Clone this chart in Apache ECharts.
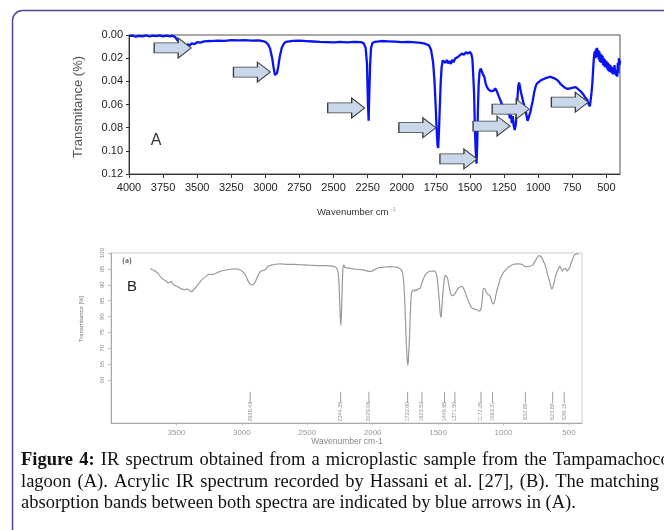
<!DOCTYPE html>
<html>
<head>
<meta charset="utf-8">
<script src="https://cdn.jsdelivr.net/npm/echarts@6/dist/echarts.min.js"></script>
<style>
  html, body { margin: 0; padding: 0; background: #fff; }
  #chart { width: 664px; height: 530px; }
</style>
</head>
<body>
<div id="chart"></div>
<script>
// panel A: sample spectrum (wavenumber, transmitance)
var waveA = [4000,3975,3950,3925,3900,3875,3850,3825,3800,3775,3750,3725,3700,3680,3660,3645,3630,3615,3600,3585,3570,3555,3540,3520,3500,3475,3450,3400,3350,3300,3250,3200,3150,3100,3050,3020,3000,2980,2965,2950,2940,2930,2922,2915,2905,2895,2880,2865,2850,2800,2750,2700,2650,2600,2550,2500,2450,2400,2350,2300,2280,2265,2255,2248,2243,2238,2232,2225,2215,2200,2150,2100,2050,2000,1950,1900,1860,1830,1800,1785,1770,1760,1752,1745,1738,1733,1728,1722,1715,1708,1700,1690,1680,1670,1660,1650,1640,1630,1620,1610,1600,1590,1575,1560,1545,1530,1515,1500,1490,1482,1476,1470,1464,1458,1452,1447,1442,1436,1430,1422,1414,1405,1395,1385,1375,1365,1355,1345,1335,1325,1315,1305,1295,1285,1275,1265,1255,1245,1235,1225,1215,1208,1200,1193,1186,1180,1172,1165,1158,1152,1146,1140,1133,1125,1117,1109,1100,1092,1085,1078,1071,1064,1056,1048,1040,1030,1020,1010,1000,985,970,955,940,925,910,895,880,865,850,835,820,805,795,785,775,765,755,745,735,725,715,705,695,685,675,665,655,648,640,633,627,621,615,609,603,598,593,588,584,580,576,572,568,564,560,556,552,548,544,540,536,532,528,524,520,516,512,508,504,500,496,492,488,484,480,476,472,468,464,460,456,452,448,444,440,436,432,428,424,420,416,412,408,404,400];
var transA = [0.0010,0.0005,0.0015,0.0008,0.0012,0.0004,0.0013,0.0006,0.0010,0.0003,0.0011,0.0005,0.0012,0.0006,0.0020,0.0045,0.0060,0.0085,0.0075,0.0095,0.0080,0.0090,0.0072,0.0078,0.0062,0.0066,0.0055,0.0052,0.0048,0.0050,0.0045,0.0047,0.0044,0.0048,0.0046,0.0052,0.0060,0.0080,0.0120,0.0200,0.0280,0.0345,0.0360,0.0330,0.0270,0.0190,0.0110,0.0075,0.0060,0.0050,0.0048,0.0052,0.0056,0.0060,0.0062,0.0064,0.0060,0.0063,0.0060,0.0062,0.0070,0.0110,0.0250,0.0600,0.0740,0.0500,0.0250,0.0110,0.0070,0.0060,0.0052,0.0055,0.0058,0.0062,0.0060,0.0064,0.0068,0.0075,0.0090,0.0130,0.0240,0.0400,0.0600,0.0800,0.0950,0.0975,0.0850,0.0650,0.0420,0.0280,0.0220,0.0210,0.0240,0.0215,0.0245,0.0225,0.0250,0.0215,0.0235,0.0205,0.0220,0.0190,0.0175,0.0160,0.0170,0.0150,0.0160,0.0145,0.0165,0.0210,0.0350,0.0500,0.0800,0.1000,0.1110,0.0950,0.0650,0.0420,0.0320,0.0290,0.0310,0.0340,0.0360,0.0420,0.0450,0.0470,0.0465,0.0485,0.0470,0.0480,0.0460,0.0480,0.0510,0.0540,0.0570,0.0600,0.0625,0.0650,0.0640,0.0680,0.0660,0.0720,0.0690,0.0760,0.0700,0.0780,0.0820,0.0780,0.0690,0.0550,0.0440,0.0410,0.0450,0.0500,0.0540,0.0580,0.0620,0.0650,0.0700,0.0740,0.0720,0.0690,0.0660,0.0610,0.0570,0.0500,0.0450,0.0420,0.0405,0.0395,0.0385,0.0378,0.0370,0.0365,0.0360,0.0368,0.0375,0.0385,0.0400,0.0425,0.0440,0.0455,0.0445,0.0465,0.0470,0.0460,0.0475,0.0455,0.0445,0.0450,0.0460,0.0470,0.0465,0.0490,0.0505,0.0520,0.0540,0.0555,0.0560,0.0590,0.0580,0.0615,0.0560,0.0500,0.0420,0.0320,0.0220,0.0160,0.0140,0.0200,0.0120,0.0170,0.0110,0.0190,0.0130,0.0210,0.0140,0.0230,0.0160,0.0240,0.0170,0.0230,0.0180,0.0260,0.0200,0.0270,0.0210,0.0280,0.0220,0.0270,0.0230,0.0300,0.0240,0.0310,0.0250,0.0320,0.0260,0.0300,0.0270,0.0330,0.0280,0.0340,0.0290,0.0330,0.0260,0.0340,0.0300,0.0350,0.0310,0.0360,0.0240,0.0330,0.0200,0.0260,0.0220];
// arrow tips in panel A (wavenumber, transmitance)
var arrowsA = [[3544,0.0112],[2963,0.032],[2272,0.063],[1750,0.080],[1449,0.107],[1206,0.0786],[1066,0.064],[632,0.058]];
var ticksA = [4000,3750,3500,3250,3000,2750,2500,2250,2000,1750,1500,1250,1000,750,500];

// panel B: acrylic reference spectrum (wavenumber, transmittance %)
var waveB = [3700,3670,3640,3610,3580,3560,3540,3520,3500,3470,3440,3420,3400,3385,3370,3350,3320,3300,3270,3250,3220,3190,3150,3100,3050,3020,3000,2980,2965,2950,2935,2920,2905,2890,2875,2860,2840,2820,2800,2770,2730,2700,2650,2600,2550,2500,2450,2400,2350,2300,2275,2262,2254,2248,2243,2238,2232,2226,2220,2210,2190,2150,2100,2065,2040,2015,1990,1960,1937,1900,1861,1830,1800,1780,1770,1760,1752,1745,1738,1731,1725,1718,1712,1705,1698,1690,1680,1670,1660,1650,1640,1630,1620,1605,1590,1570,1550,1530,1515,1505,1497,1490,1484,1478,1472,1465,1458,1450,1443,1435,1428,1420,1410,1400,1390,1380,1370,1358,1345,1330,1318,1305,1295,1285,1270,1255,1244,1230,1215,1206,1195,1185,1176,1168,1160,1151,1143,1131,1118,1105,1095,1085,1078,1068,1058,1048,1040,1025,1004,985,967,945,917,890,866,845,828,810,790,775,765,750,735,727,715,702,690,676,662,651,640,631,622,613,600,588,578,570,560,550,540,530,520,512,503,494,484,474,460,449,435,424];
var transB = [95.0,94.5,93.5,92.0,91.2,90.6,91.0,90.0,89.6,88.9,88.5,88.6,88.3,87.8,88.4,89.3,90.8,91.8,92.8,93.3,93.3,93.8,94.4,94.8,95.0,94.8,94.3,93.5,92.4,91.0,90.2,90.0,90.4,91.6,93.0,94.1,94.5,94.8,95.8,96.2,96.5,96.6,96.4,96.4,96.3,96.2,96.1,96.0,96.0,95.8,95.2,93.0,87.0,80.0,77.3,82.0,90.0,95.8,96.2,95.4,95.3,95.0,94.8,94.6,94.3,94.2,94.6,95.3,95.5,95.6,95.7,95.6,95.3,94.6,93.5,89.0,82.0,74.0,68.0,64.7,68.0,74.0,81.0,86.5,88.0,88.3,88.0,88.5,88.2,88.9,88.8,89.8,91.0,92.5,93.6,94.1,94.3,94.3,93.6,91.5,88.0,84.5,81.0,79.8,82.5,86.5,89.5,92.5,93.0,92.6,92.0,90.4,88.3,86.9,86.6,86.8,87.2,88.2,88.9,89.4,89.5,88.8,87.9,86.6,85.0,83.6,82.8,82.4,82.3,82.2,81.9,81.7,82.0,83.2,86.5,88.9,88.7,87.6,87.0,86.6,85.5,84.3,84.0,84.8,86.8,88.6,89.6,91.8,93.6,94.6,95.4,96.0,96.5,96.6,96.5,96.0,95.7,95.8,95.9,96.3,97.0,98.0,99.0,99.2,98.9,98.1,97.0,95.5,93.0,91.6,89.8,88.7,89.3,90.7,93.0,94.3,95.2,95.9,95.2,94.3,94.9,95.2,94.6,94.3,95.0,95.4,96.8,97.8,99.2,99.6,99.7,99.7];
// marked bands under panel B
var peaksB = [2936.43,2244.35,2029.08,1732.60,1623.52,1449.95,1371.50,1172.26,1083.31,832.88,623.88,536.15];
var ticksBx = [3500,3000,2500,2000,1500,1000,500];
var ticksBy = [60,65,70,75,80,85,90,95,100];

var caption = [
  '{b|Figure 4:} IR spectrum obtained from a microplastic sample from the Tampamachoco',
  'lagoon (A). Acrylic IR spectrum recorded by Hassani et al. [27], (B). The matching',
  'absorption bands between both spectra are indicated by blue arrows in (A).'
];

var chart = echarts.init(document.getElementById('chart'));

function zip(a, b) {
  return a.map(function (v, i) { return [v, b[i]]; });
}
function plain(v) { return String(v); }
// justified lines: a hair space after each word gap
function justify(s) { return s.split(' ').join(' \u200A'); }

var arrowPath = 'path://M0,5 L24,5 L24,0 L37,10 L24,20 L24,15 L0,15 Z';
var sans = '"Liberation Sans", Arial, sans-serif';
var serif = '"Liberation Serif", "Times New Roman", serif';
var capFont = '18.5px ' + serif;

var option = {
  animation: false,
  grid: [
    { left: 129, top: 35, width: 491, height: 139, show: true, borderColor: '#555', borderWidth: 1 },
    { left: 111, top: 253, width: 471, height: 170, show: true, borderColor: '#ccc', borderWidth: 1 }
  ],
  xAxis: [
    {
      gridIndex: 0, type: 'value', min: 400, max: 4000, inverse: true,
      axisLine: { onZero: false, lineStyle: { color: '#333' } },
      axisTick: { show: true, length: 4, customValues: ticksA, lineStyle: { color: '#333' } },
      axisLabel: { customValues: ticksA, formatter: plain, color: '#222', fontSize: 11, fontFamily: sans, margin: 8 },
      splitLine: { show: false }
    },
    {
      gridIndex: 1, type: 'value', min: 400, max: 4000, inverse: true,
      axisLine: { onZero: false, lineStyle: { color: '#aaa' } },
      axisTick: { show: true, length: 2, customValues: ticksBx, lineStyle: { color: '#bbb' } },
      axisLabel: { customValues: ticksBx, formatter: plain, color: '#999', fontSize: 8, fontFamily: sans, margin: 6 },
      splitLine: { show: false }
    }
  ],
  yAxis: [
    {
      gridIndex: 0, type: 'value', min: 0, max: 0.12, interval: 0.02, inverse: true,
      axisLine: { show: true, onZero: false, lineStyle: { color: '#333' } },
      axisTick: { show: true, length: 3, lineStyle: { color: '#333' } },
      axisLabel: { color: '#222', fontSize: 11, fontFamily: sans, margin: 6,
        formatter: function (v) { return v.toFixed(2); } },
      splitLine: { show: false }
    },
    {
      gridIndex: 1, type: 'value', min: 46.5, max: 100,
      axisLine: { show: true, onZero: false, lineStyle: { color: '#aaa' } },
      axisTick: { show: true, length: 3, customValues: ticksBy, lineStyle: { color: '#bbb' } },
      axisLabel: { customValues: ticksBy, formatter: plain, color: '#888', fontSize: 6, fontFamily: sans, rotate: 90, margin: 6 },
      splitLine: { show: false }
    }
  ],
  series: [
    {
      type: 'line', xAxisIndex: 0, yAxisIndex: 0,
      data: zip(waveA, transA), showSymbol: false, smooth: false,
      lineStyle: { color: '#0a14f0', width: 2.3 },
      markPoint: {
        symbol: arrowPath, symbolSize: [37, 20], symbolOffset: ['-50%', 0], symbolKeepAspect: false,
        itemStyle: { color: '#c8d8ea', borderColor: '#3c3c3c', borderWidth: 1 },
        label: { show: false },
        data: arrowsA.map(function (p) { return { coord: p }; })
      }
    },
    {
      type: 'line', xAxisIndex: 1, yAxisIndex: 1,
      data: zip(waveB, transB), showSymbol: false, smooth: true,
      lineStyle: { color: '#9a9a9a', width: 1.2 }
    },
    {
      type: 'scatter', xAxisIndex: 1, yAxisIndex: 1,
      data: peaksB.map(function (v) { return [v, 54.6]; }),
      symbol: 'rect', symbolSize: [0.9, 11],
      itemStyle: { color: '#777' }, silent: true
    },
    {
      type: 'scatter', xAxisIndex: 1, yAxisIndex: 1,
      data: peaksB.map(function (v) { return [v, 50.1]; }),
      symbolSize: 1, itemStyle: { color: 'rgba(0,0,0,0)' }, silent: true,
      label: {
        show: true, position: 'inside', rotate: 90, fontSize: 5.5, color: '#777', fontFamily: sans,
        formatter: function (p) { return p.value[0].toFixed(2); }
      }
    }
  ],
  graphic: [
    { type: 'rect', silent: true, z: -10,
      shape: { x: 12.5, y: 10.5, width: 720, height: 600, r: 10 },
      style: { fill: 'none', stroke: '#4f4694', lineWidth: 1.5 } },
    { type: 'text', silent: true, x: 78, y: 107, rotation: Math.PI / 2,
      style: { text: 'Transmitance (%)', font: '13px ' + sans, fill: '#555', align: 'center', verticalAlign: 'middle' } },
    { type: 'text', silent: true, x: 317, y: 212,
      style: { text: 'Wavenumber cm{s|-1}', font: '9.5px ' + sans, fill: '#333', verticalAlign: 'middle',
        rich: { s: { fontSize: 6, verticalAlign: 'top', padding: [0, 0, 6, 2], fill: '#999' } } } },
    { type: 'text', silent: true, x: 156, y: 141,
      style: { text: 'A', font: '16px ' + sans, fill: '#333', align: 'center', verticalAlign: 'middle' } },
    { type: 'text', silent: true, x: 132, y: 287,
      style: { text: 'B', font: '15px ' + sans, fill: '#222', align: 'center', verticalAlign: 'middle' } },
    { type: 'text', silent: true, x: 127, y: 261,
      style: { text: '(a)', font: 'bold 8px ' + serif, fill: '#666', align: 'center', verticalAlign: 'middle' } },
    { type: 'text', silent: true, x: 81, y: 319, rotation: Math.PI / 2,
      style: { text: 'Transmitance [%]', font: '6px ' + sans, fill: '#777', align: 'center', verticalAlign: 'middle' } },
    { type: 'text', silent: true, x: 347, y: 442,
      style: { text: 'Wavenumber cm-1', font: '8.5px ' + sans, fill: '#888', align: 'center', verticalAlign: 'middle' } },
    { type: 'text', silent: true, x: 21, y: 460,
      style: { text: justify(caption[0]), font: capFont, fill: '#111', verticalAlign: 'middle',
        rich: { b: { fontWeight: 'bold', fontSize: 18.5, fontFamily: serif } } } },
    { type: 'text', silent: true, x: 21, y: 482,
      style: { text: justify(caption[1]), font: capFont, fill: '#111', verticalAlign: 'middle' } },
    { type: 'text', silent: true, x: 21, y: 503,
      style: { text: caption[2], font: capFont, fill: '#111', verticalAlign: 'middle' } }
  ]
};

chart.setOption(option);
</script>
</body>
</html>
